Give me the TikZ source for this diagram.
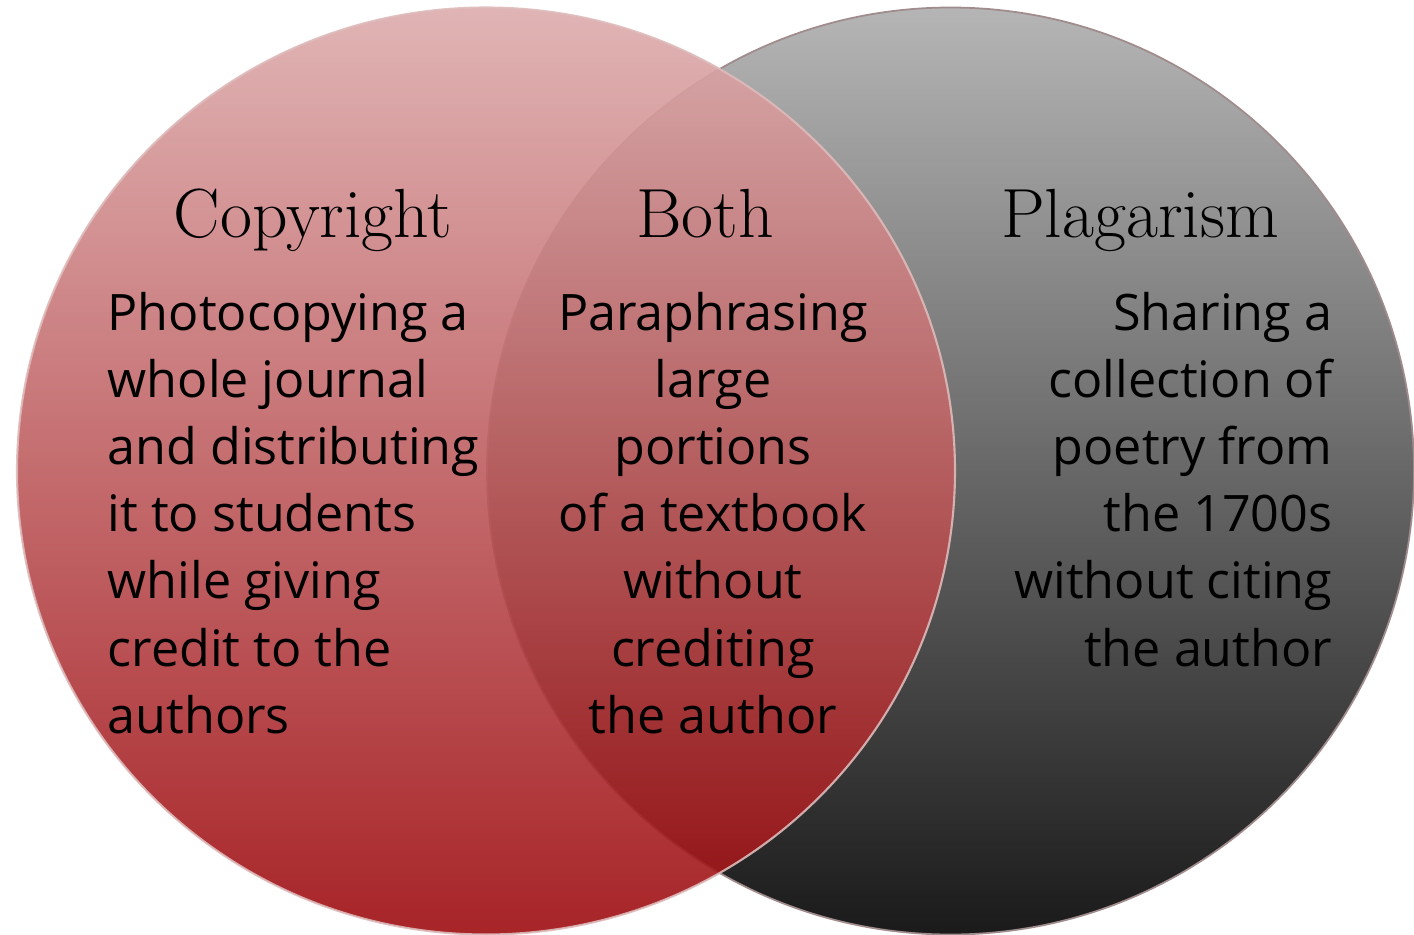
\documentclass[tikz,border=0pt]{standalone}
\usepackage{fontspec}
\newfontfamily\bodyfont{Open Sans}

\definecolor{pinktop}{RGB}{221,172,173}
\definecolor{redbottom}{RGB}{158,12,16}
\definecolor{greytop}{RGB}{181,181,181}
\definecolor{greybottom}{RGB}{26,26,26}
\definecolor{rimpink}{RGB}{222,186,186}
\definecolor{rimgrey}{RGB}{160,140,140}

\tikzset{
  heading/.style={font=\fontsize{19.8}{23}\selectfont, anchor=base, inner sep=0pt},
  listing/.style={font=\bodyfont\fontsize{14.3}{19.07}\selectfont, inner sep=0pt},
}

\begin{document}
\begin{tikzpicture}
\newcommand{\cxL}{4.86}
\newcommand{\cxR}{9.505}
\newcommand{\cy}{4.63}
\newcommand{\rxL}{4.69}
\newcommand{\ryL}{4.635}
\newcommand{\rR}{4.635}
\newcommand{\topline}{6.42}
\useasboundingbox (0,0) rectangle (14.14,9.34);
% the two sets
\shade [top color=greytop, bottom color=greybottom] (\cxR,\cy) circle (\rR);
\draw [rimgrey, line width=0.5pt] (\cxR,\cy) circle (\rR);
\shade [top color=pinktop, bottom color=redbottom, fill opacity=0.9] (\cxL,\cy) ellipse ({\rxL} and {\ryL});
\draw [rimpink, line width=0.6pt, opacity=0.9] (\cxL,\cy) ellipse ({\rxL} and {\ryL});
% headings
\node [heading] (copyright) at (3.13,6.97) {Copyright};
\node [heading] (both) at (7.05,6.97) {Both};
\node [heading] (plagarism) at (11.40,6.97) {Plagarism};
% examples
\node [listing, align=left, anchor=north west] (copytext) at (1.07,\topline)
  {Photocopying a\\whole journal\\and distributing\\it to students\\while giving\\credit to the\\authors};
\node [listing, align=center, anchor=north] (bothtext) at (7.13,\topline)
  {Paraphrasing\\large\\portions\\of a textbook\\without\\crediting\\the author};
\node [listing, align=right, anchor=north east] (plagtext) at (13.33,\topline)
  {Sharing a\\collection of\\poetry from\\the 1700s\\without citing\\the author};
\end{tikzpicture}
\end{document}
